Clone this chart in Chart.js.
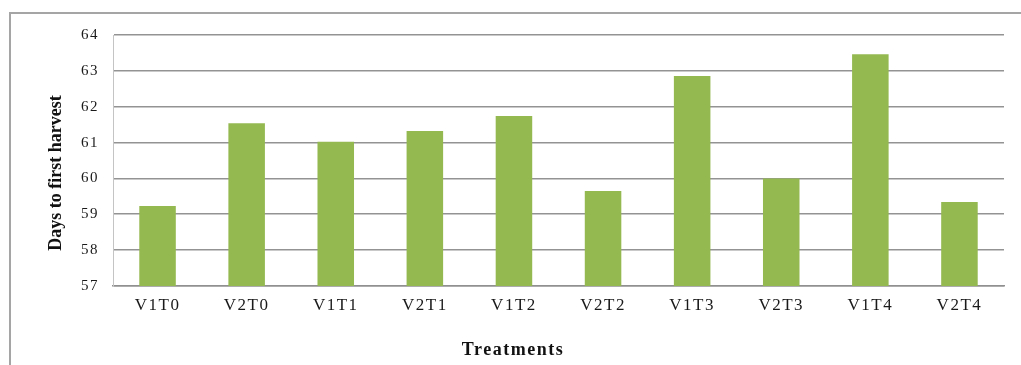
<!DOCTYPE html>
<html>
<head>
<meta charset="utf-8">
<script src="https://cdn.jsdelivr.net/npm/chart.js@4"></script>
<style>
  html, body { margin: 0; padding: 0; background: #fff; }
  #wrap { position: relative; width: 1021px; height: 365px; overflow: hidden; background: #fff; }
  #frame { position: absolute; left: 9px; top: 12px; width: 1040px; height: 420px;
           border-left: 2px solid #a5a5a5; border-top: 2px solid #a5a5a5; }
  canvas { position: absolute; left: 0; top: 0; }
</style>
</head>
<body>
<div id="wrap">
  <div id="frame"></div>
  <canvas id="chart" width="1021" height="365"></canvas>
</div>
<script>
// Treatments on the x axis
const treatments = ['V1T0', 'V2T0', 'V1T1', 'V2T1', 'V1T2', 'V2T2', 'V1T3', 'V2T3', 'V1T4', 'V2T4'];
// Days to first harvest for each treatment
const daysToFirstHarvest = [59.23, 61.54, 61.02, 61.32, 61.74, 59.65, 62.86, 60.00, 63.46, 59.34];
// Value axis range and step
const yMin = 57;
const yMax = 64;
const yStep = 1;

const xTitle = 'Treatments';
const yTitle = 'Days to first harvest';

const serif = '"Liberation Serif", "Times New Roman", serif';
const spacing = '1.5px';

// Slightly open lettering for the chart text
const wideLetters = {
  id: 'wideLetters',
  beforeUpdate(chart) { chart.ctx.letterSpacing = spacing; },
  beforeDraw(chart) { chart.ctx.letterSpacing = spacing; }
};

// Axis titles are centred on the whole chart frame rather than the plot area
const axisTitles = {
  id: 'axisTitles',
  afterDraw(chart) {
    const ctx = chart.ctx;
    ctx.save();
    ctx.fillStyle = '#111';
    ctx.textAlign = 'center';
    ctx.textBaseline = 'middle';
    ctx.letterSpacing = spacing;
    ctx.font = 'bold 18px ' + serif;
    ctx.fillText(xTitle, 513, 350);
    ctx.letterSpacing = '0px';
    ctx.translate(56, 173);
    ctx.rotate(-Math.PI / 2);
    ctx.font = 'bold 18px ' + serif;
    ctx.fillText(yTitle, 0, 0);
    ctx.restore();
  }
};

new Chart(document.getElementById('chart'), {
  type: 'bar',
  data: {
    labels: treatments,
    datasets: [{
      data: daysToFirstHarvest,
      backgroundColor: '#95b951',
      borderWidth: 0,
      barPercentage: 0.41,
      categoryPercentage: 1.0
    }]
  },
  options: {
    responsive: false,
    animation: false,
    layout: { padding: { left: 0, right: 17, top: 35, bottom: 0 } },
    plugins: {
      legend: { display: false },
      tooltip: { enabled: false }
    },
    scales: {
      x: {
        afterFit(scale) { scale.height = 79; },
        grid: { display: false, drawTicks: false },
        border: { display: true, color: '#909090', width: 1.5 },
        ticks: { color: '#1a1a1a', padding: 9, font: { family: serif, size: 17 } }
      },
      y: {
        min: yMin,
        max: yMax,
        afterFit(scale) { scale.width = 113; },
        grid: { color: '#939393', lineWidth: 1.6, drawTicks: false },
        border: { display: true, color: '#c4c4c4', width: 1 },
        ticks: { stepSize: yStep, color: '#1a1a1a', padding: 14, font: { family: serif, size: 15 } }
      }
    }
  },
  plugins: [wideLetters, axisTitles]
});
</script>
</body>
</html>
